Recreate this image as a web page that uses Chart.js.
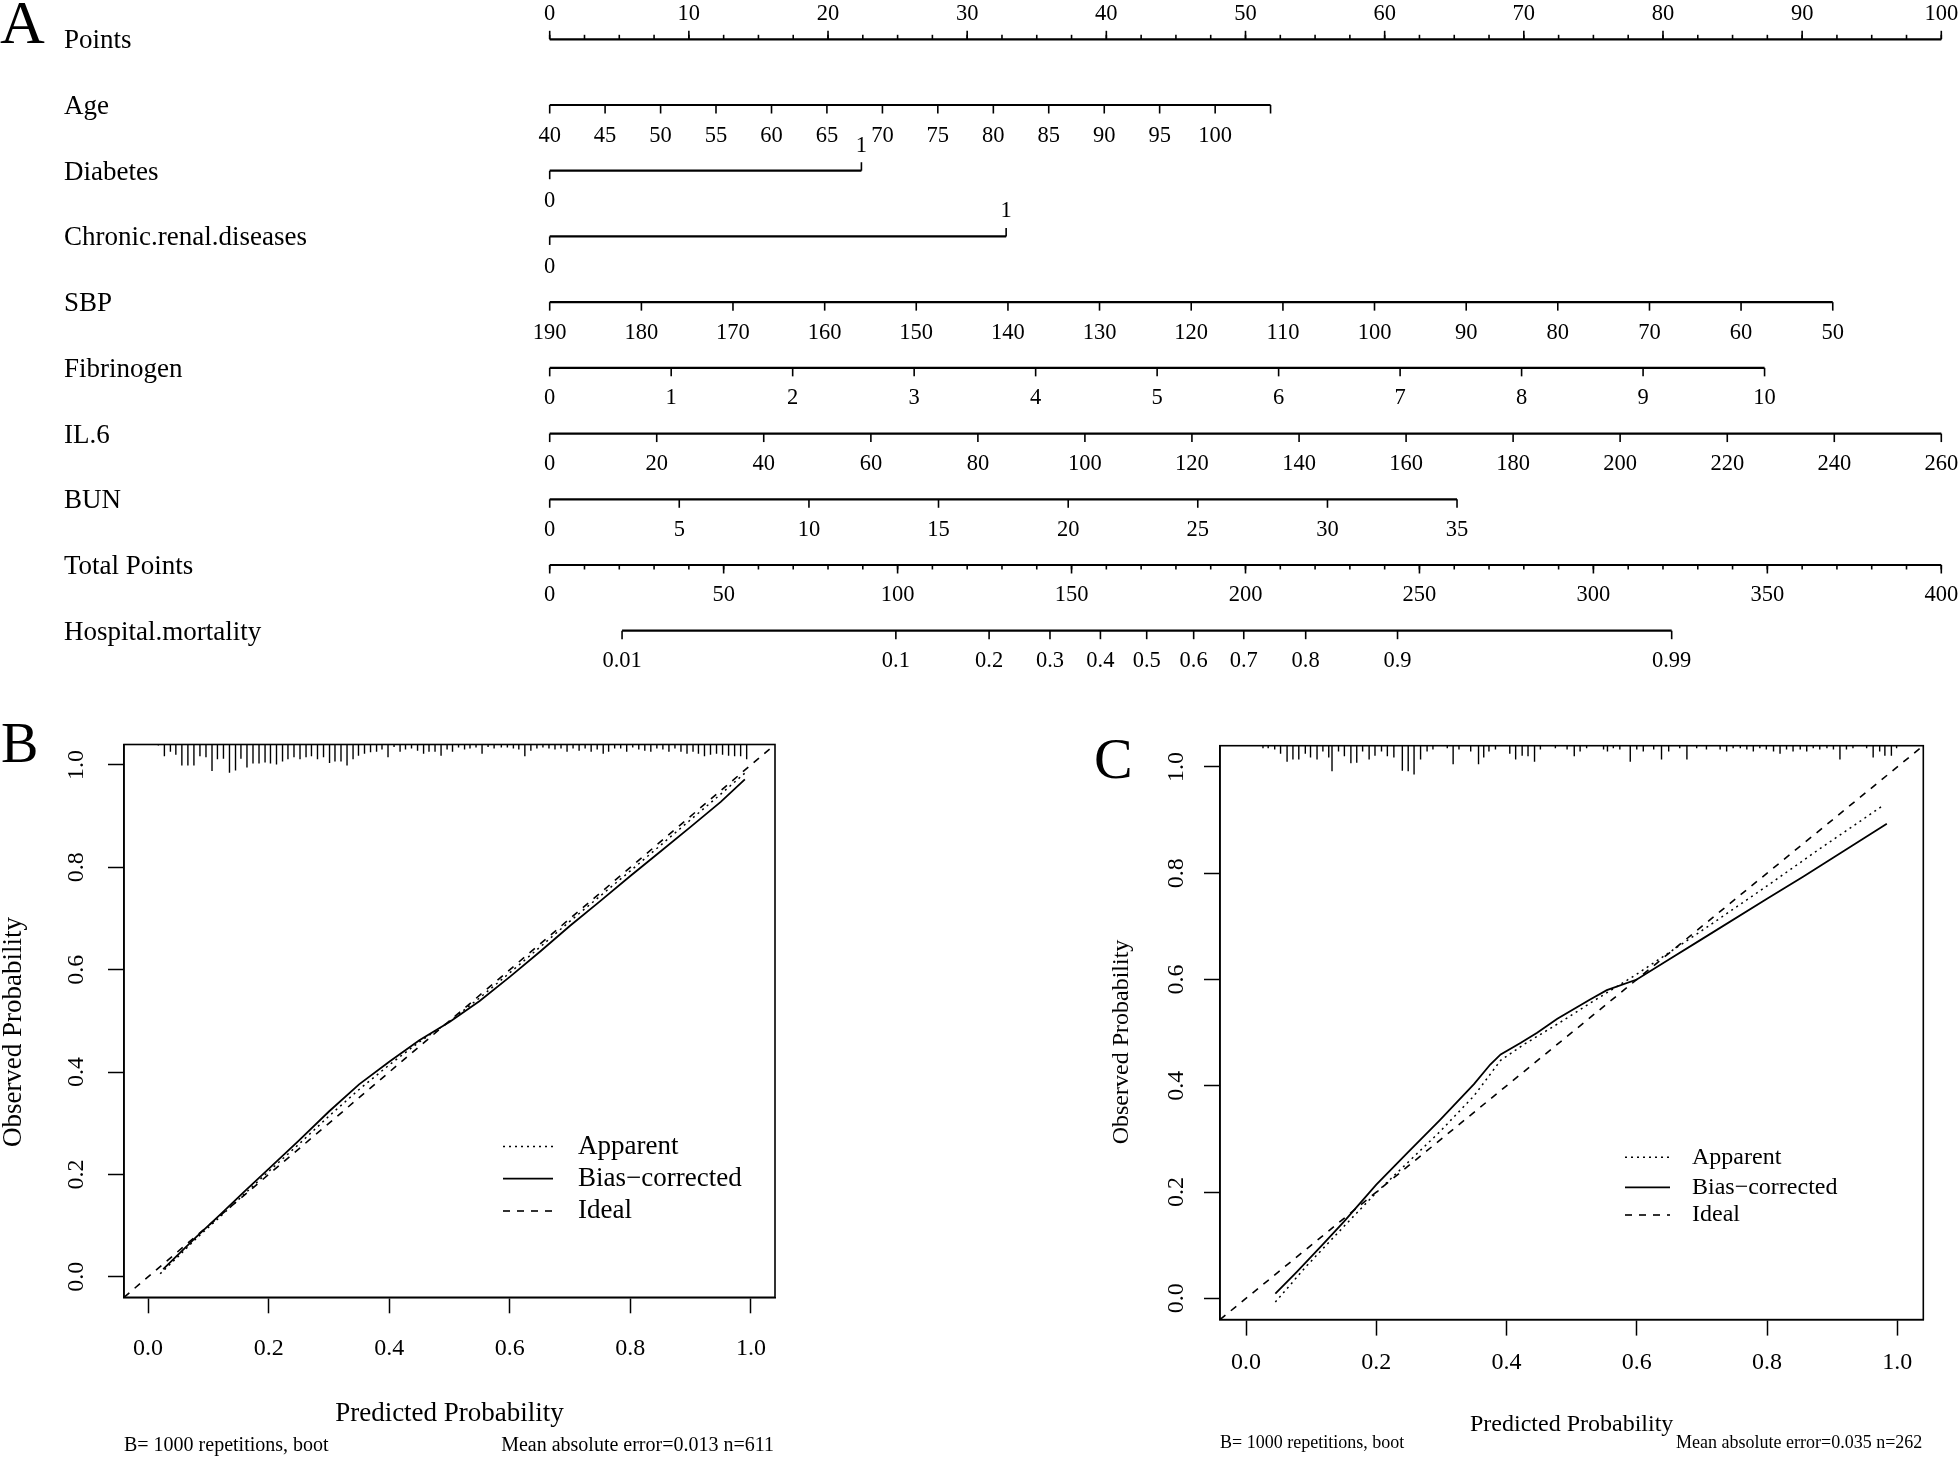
<!DOCTYPE html>
<html>
<head>
<meta charset="utf-8">
<script src="https://cdn.jsdelivr.net/npm/chart.js@4.4.0/dist/chart.umd.min.js"></script>
<style>
  html, body { margin: 0; padding: 0; background: #fff; }
  body { width: 1959px; height: 1466px; position: relative; overflow: hidden; }
  canvas { position: absolute; }
</style>
</head>
<body>
<canvas id="nomo" width="1959" height="690" style="left:0;top:0;width:1959px;height:690px"></canvas>
<canvas id="calB" width="800" height="766" style="left:0;top:700px;width:800px;height:766px"></canvas>
<canvas id="calC" width="909" height="766" style="left:1050px;top:700px;width:909px;height:766px"></canvas>
<script>
const serif = '"Liberation Serif", "Times New Roman", serif';
Chart.defaults.font.family = serif;
Chart.defaults.color = '#000';

// ---- panel A: nomogram (positions in points, or total points for the last two rows)
const pointsLabels = ['0', '10', '20', '30', '40', '50', '60', '70', '80', '90', '100'];
const pointsPos = [0, 10, 20, 30, 40, 50, 60, 70, 80, 90, 100];
const ageLabels = ['40', '45', '50', '55', '60', '65', '70', '75', '80', '85', '90', '95', '100', ''];
const agePos = [0, 3.98, 7.97, 11.95, 15.94, 19.92, 23.91, 27.89, 31.88, 35.86, 39.85, 43.83, 47.82, 51.8];
const diabetesLabels = ['0', '1'];
const diabetesPos = [0, 22.4];
const renalLabels = ['0', '1'];
const renalPos = [0, 32.8];
const sbpLabels = ['190', '180', '170', '160', '150', '140', '130', '120', '110', '100', '90', '80', '70', '60', '50'];
const sbpPos = [0, 6.59, 13.17, 19.76, 26.34, 32.93, 39.51, 46.1, 52.69, 59.27, 65.86, 72.44, 79.03, 85.61, 92.2];
const fibLabels = ['0', '1', '2', '3', '4', '5', '6', '7', '8', '9', '10'];
const fibPos = [0, 8.73, 17.46, 26.19, 34.92, 43.65, 52.38, 61.11, 69.84, 78.57, 87.3];
const il6Labels = ['0', '20', '40', '60', '80', '100', '120', '140', '160', '180', '200', '220', '240', '260'];
const il6Pos = [0, 7.69, 15.38, 23.08, 30.77, 38.46, 46.15, 53.85, 61.54, 69.23, 76.92, 84.62, 92.31, 100];
const bunLabels = ['0', '5', '10', '15', '20', '25', '30', '35'];
const bunPos = [0, 9.31, 18.63, 27.94, 37.26, 46.57, 55.89, 65.2];
const totalLabels = ['0', '50', '100', '150', '200', '250', '300', '350', '400'];
const totalPos = [0, 50, 100, 150, 200, 250, 300, 350, 400];
const mortLabels = ['0.01', '0.1', '0.2', '0.3', '0.4', '0.5', '0.6', '0.7', '0.8', '0.9', '0.99'];
const mortPos = [20.8, 99.5, 126.3, 143.8, 158.3, 171.6, 185.1, 199.5, 217.3, 243.7, 322.5];

const nomoRows = [
  { name: 'Points', axis: 'x', labels: pointsLabels, pos: pointsPos, up: true, minorStep: 2.5 },
  { name: 'Age', axis: 'x', labels: ageLabels, pos: agePos },
  { name: 'Diabetes', axis: 'x', labels: diabetesLabels, pos: diabetesPos, up: [false, true] },
  { name: 'Chronic.renal.diseases', axis: 'x', labels: renalLabels, pos: renalPos, up: [false, true] },
  { name: 'SBP', axis: 'x', labels: sbpLabels, pos: sbpPos },
  { name: 'Fibrinogen', axis: 'x', labels: fibLabels, pos: fibPos },
  { name: 'IL.6', axis: 'x', labels: il6Labels, pos: il6Pos },
  { name: 'BUN', axis: 'x', labels: bunLabels, pos: bunPos },
  { name: 'Total Points', axis: 'xt', labels: totalLabels, pos: totalPos, minorStep: 10 },
  { name: 'Hospital.mortality', axis: 'xt', labels: mortLabels, pos: mortPos }
];

// ---- panels B and C: calibration curves
const axisMin = -0.04;
const axisMax = 1.04;
const probTicks = [0, 0.2, 0.4, 0.6, 0.8, 1.0];

const bApparentX = [0.02, 0.05, 0.08, 0.12, 0.16, 0.2, 0.25, 0.3, 0.35, 0.4, 0.45, 0.5, 0.55, 0.6, 0.65, 0.7, 0.75, 0.8, 0.85, 0.9, 0.95, 0.99];
const bApparentY = [0.006, 0.04, 0.075, 0.118, 0.162, 0.206, 0.259, 0.314, 0.366, 0.414, 0.459, 0.499, 0.545, 0.594, 0.644, 0.695, 0.744, 0.793, 0.843, 0.893, 0.943, 0.984];
const bBiasX = [0.025, 0.04, 0.08, 0.12, 0.16, 0.2, 0.25, 0.3, 0.35, 0.4, 0.45, 0.5, 0.55, 0.6, 0.65, 0.7, 0.75, 0.8, 0.85, 0.9, 0.95, 0.99];
const bBiasY = [0.015, 0.032, 0.078, 0.122, 0.167, 0.211, 0.266, 0.323, 0.376, 0.42, 0.462, 0.498, 0.539, 0.586, 0.635, 0.686, 0.734, 0.783, 0.831, 0.879, 0.928, 0.972];
const bRugX = [0.017, 0.027, 0.037, 0.046, 0.056, 0.066, 0.076, 0.086, 0.096, 0.106, 0.115, 0.125, 0.135, 0.145, 0.154, 0.164, 0.174, 0.184, 0.194, 0.203,
  0.213, 0.223, 0.232, 0.242, 0.252, 0.262, 0.271, 0.281, 0.291, 0.301, 0.31, 0.32, 0.33, 0.34, 0.349, 0.359, 0.369, 0.379, 0.388, 0.398,
  0.408, 0.418, 0.427, 0.437, 0.447, 0.457, 0.466, 0.476, 0.486, 0.496, 0.505, 0.515, 0.525, 0.534, 0.544, 0.554, 0.564, 0.574, 0.586, 0.596,
  0.606, 0.615, 0.625, 0.635, 0.645, 0.655, 0.665, 0.675, 0.685, 0.695, 0.705, 0.715, 0.725, 0.735, 0.745, 0.755, 0.764, 0.774, 0.784, 0.794,
  0.804, 0.814, 0.824, 0.834, 0.844, 0.854, 0.864, 0.874, 0.884, 0.894, 0.904, 0.913, 0.923, 0.933, 0.943, 0.953, 0.963, 0.973, 0.983, 0.993];
const bRugLen = [0.002, 0.023, 0.014, 0.02, 0.041, 0.041, 0.041, 0.023, 0.025, 0.052, 0.029, 0.028, 0.055, 0.051, 0.028, 0.045, 0.037, 0.037, 0.035, 0.037,
  0.039, 0.033, 0.029, 0.025, 0.029, 0.025, 0.023, 0.029, 0.025, 0.036, 0.033, 0.033, 0.041, 0.029, 0.022, 0.018, 0.015, 0.014, 0.01, 0.025,
  0.005, 0.014, 0.01, 0.008, 0.012, 0.018, 0.014, 0.014, 0.022, 0.01, 0.014, 0.006, 0.01, 0.008, 0.006, 0.018, 0.005, 0.008, 0.006, 0.006,
  0.008, 0.01, 0.023, 0.012, 0.008, 0.006, 0.008, 0.01, 0.008, 0.014, 0.008, 0.012, 0.008, 0.014, 0.01, 0.018, 0.014, 0.008, 0.008, 0.014,
  0.006, 0.01, 0.012, 0.014, 0.008, 0.01, 0.014, 0.008, 0.014, 0.018, 0.014, 0.018, 0.023, 0.02, 0.018, 0.02, 0.022, 0.023, 0.023, 0.029];

const cApparentX = [0.045, 0.093, 0.15, 0.2, 0.247, 0.298, 0.35, 0.391, 0.427, 0.478, 0.529, 0.6, 0.65, 0.7, 0.8, 0.881, 0.979];
const cApparentY = [-0.007, 0.061, 0.135, 0.199, 0.254, 0.314, 0.381, 0.448, 0.478, 0.516, 0.556, 0.61, 0.651, 0.692, 0.776, 0.846, 0.928];
const cBiasX = [0.045, 0.078, 0.119, 0.15, 0.2, 0.247, 0.298, 0.35, 0.375, 0.391, 0.422, 0.447, 0.478, 0.529, 0.554, 0.6, 0.65, 0.7, 0.8, 0.856, 0.984];
const cBiasY = [0.009, 0.05, 0.103, 0.144, 0.214, 0.273, 0.336, 0.403, 0.44, 0.459, 0.481, 0.5, 0.526, 0.563, 0.58, 0.6, 0.638, 0.676, 0.752, 0.794, 0.893];
const cRugX = [0.026, 0.034, 0.044, 0.053, 0.063, 0.072, 0.081, 0.091, 0.099, 0.109, 0.118, 0.127, 0.132, 0.142, 0.151, 0.161, 0.17, 0.179, 0.189, 0.198,
  0.208, 0.217, 0.227, 0.24, 0.249, 0.258, 0.268, 0.278, 0.287, 0.309, 0.318, 0.327, 0.345, 0.357, 0.365, 0.373, 0.383, 0.405, 0.414, 0.424,
  0.433, 0.443, 0.452, 0.475, 0.493, 0.504, 0.513, 0.523, 0.549, 0.555, 0.564, 0.574, 0.59, 0.6, 0.61, 0.626, 0.638, 0.649, 0.666, 0.677,
  0.692, 0.707, 0.728, 0.738, 0.748, 0.759, 0.769, 0.779, 0.789, 0.799, 0.81, 0.82, 0.83, 0.84, 0.851, 0.861, 0.871, 0.881, 0.892, 0.902,
  0.912, 0.922, 0.932, 0.953, 0.963, 0.973, 0.981, 0.991, 0.999];
const cRugLen = [0.005, 0.005, 0.007, 0.015, 0.03, 0.026, 0.026, 0.015, 0.022, 0.026, 0.011, 0.022, 0.048, 0.011, 0.02, 0.033, 0.032, 0.011, 0.026, 0.019,
  0.011, 0.02, 0.022, 0.047, 0.048, 0.054, 0.026, 0.011, 0.007, 0.005, 0.035, 0.007, 0.011, 0.035, 0.022, 0.011, 0.007, 0.015, 0.026, 0.019,
  0.02, 0.03, 0.007, 0.005, 0.007, 0.02, 0.011, 0.005, 0.007, 0.011, 0.005, 0.007, 0.03, 0.007, 0.011, 0.007, 0.026, 0.011, 0.005, 0.026,
  0.005, 0.007, 0.007, 0.011, 0.005, 0.005, 0.007, 0.011, 0.005, 0.007, 0.011, 0.015, 0.007, 0.011, 0.007, 0.011, 0.005, 0.007, 0.005, 0.007,
  0.026, 0.007, 0.005, 0.005, 0.022, 0.011, 0.019, 0.019, 0.005];

function pairs(xs, ys) {
  return xs.map((x, i) => ({ x: x, y: ys[i] }));
}

const nomogramPlugin = {
  id: 'nomogram',
  afterDatasetsDraw(chart) {
    const { ctx, scales } = chart;
    ctx.save();
    ctx.fillStyle = '#000';
    ctx.strokeStyle = '#000';
    ctx.textBaseline = 'alphabetic';
    ctx.textAlign = 'left';
    ctx.font = '62px ' + serif;
    ctx.fillText('A', 0, 43);
    nomoRows.forEach((row, i) => {
      const xs = scales[row.axis];
      const y = scales.y.getPixelForValue(i);
      ctx.font = '27px ' + serif;
      ctx.textAlign = 'left';
      ctx.fillText(row.name, 64, y + 9);
      ctx.lineWidth = 1.6;
      if (row.minorStep) {
        const last = row.pos[row.pos.length - 1];
        for (let v = row.pos[0]; v <= last + 1e-9; v += row.minorStep) {
          const x = xs.getPixelForValue(v);
          ctx.beginPath();
          ctx.moveTo(x, y);
          ctx.lineTo(x, row.up ? y - 4.5 : y + 4.5);
          ctx.stroke();
        }
      }
      ctx.font = '22.5px ' + serif;
      ctx.textAlign = 'center';
      row.pos.forEach((p, k) => {
        const x = xs.getPixelForValue(p);
        const up = row.up === true || (Array.isArray(row.up) && row.up[k]);
        ctx.beginPath();
        ctx.moveTo(x, y);
        ctx.lineTo(x, up ? y - 8.5 : y + 8.5);
        ctx.stroke();
        if (row.labels[k]) ctx.fillText(row.labels[k], x, up ? y - 19 : y + 36.5);
      });
    });
    ctx.restore();
  }
};

new Chart(document.getElementById('nomo'), {
  type: 'scatter',
  data: {
    datasets: nomoRows.map((row, i) => ({
      data: [{ x: row.pos[0], y: i }, { x: row.pos[row.pos.length - 1], y: i }],
      xAxisID: row.axis,
      showLine: true,
      borderColor: '#000',
      borderWidth: 2.2,
      pointRadius: 0,
      clip: false
    }))
  },
  options: {
    responsive: false,
    animation: false,
    devicePixelRatio: 1,
    layout: { padding: { left: 549.7, right: 17.7, top: 39.3, bottom: 59.3 } },
    plugins: { legend: { display: false }, tooltip: { enabled: false } },
    scales: {
      x: { type: 'linear', min: 0, max: 100, display: false },
      xt: { type: 'linear', axis: 'x', min: 0, max: 400, display: false },
      y: { type: 'linear', min: 0, max: 9, reverse: true, display: false }
    }
  },
  plugins: [nomogramPlugin]
});

function calibration(id, c) {
  const rug = [];
  c.rugX.forEach((x, i) => {
    rug.push({ x: x, y: axisMax }, { x: x, y: axisMax - c.rugLen[i] }, { x: x, y: null });
  });
  const lineSet = (label, data, dash, width) => ({
    label: label, data: data, showLine: true, borderColor: '#000', borderWidth: width,
    borderDash: dash, pointRadius: 0, fill: false, spanGaps: false
  });
  const datasets = [
    lineSet('Apparent', pairs(c.appX, c.appY), [2, 4], 1.5),
    lineSet('Bias\u2212corrected', pairs(c.biasX, c.biasY), [], 1.8),
    lineSet('Ideal', [{ x: axisMin, y: axisMin }, { x: axisMax, y: axisMax }], [7, 7], 1.6),
    Object.assign(lineSet('rug', rug, [], 1.4), { clip: false })
  ];

  const decor = {
    id: 'decor_' + id,
    afterDraw(chart) {
      const { ctx, chartArea: a } = chart;
      ctx.save();
      ctx.strokeStyle = '#000';
      ctx.fillStyle = '#000';
      ctx.lineWidth = 1.6;
      ctx.strokeRect(a.left, a.top, a.right - a.left, a.bottom - a.top);
      // panel letter
      ctx.font = c.letterSize + 'px ' + serif;
      ctx.textAlign = 'left';
      ctx.textBaseline = 'alphabetic';
      ctx.fillText(c.letter, c.letterX, c.letterY);
      // axis titles
      ctx.font = c.titleSize + 'px ' + serif;
      ctx.textAlign = 'center';
      ctx.fillText('Predicted Probability', (a.left + a.right) / 2, c.xTitleY);
      ctx.save();
      ctx.translate(c.yTitleX, c.yTitleY);
      ctx.rotate(-Math.PI / 2);
      ctx.fillText('Observed Probability', 0, 0);
      ctx.restore();
      // footnotes
      ctx.font = c.noteSize + 'px ' + serif;
      ctx.textAlign = 'left';
      ctx.fillText('B= 1000 repetitions, boot', a.left, c.noteY);
      ctx.textAlign = 'right';
      ctx.fillText(c.note, a.right - 1, c.noteY);
      // legend
      ctx.font = c.legendSize + 'px ' + serif;
      ctx.textAlign = 'left';
      ctx.textBaseline = 'middle';
      datasets.slice(0, 3).forEach((ds, i) => {
        const y = c.legendY[i];
        ctx.setLineDash(ds.borderDash);
        ctx.lineWidth = ds.borderWidth;
        ctx.beginPath();
        ctx.moveTo(c.legendX[0], y);
        ctx.lineTo(c.legendX[1], y);
        ctx.stroke();
        ctx.setLineDash([]);
        ctx.fillText(ds.label, c.legendX[2], y);
      });
      ctx.restore();
    }
  };

  const axisCommon = extra => Object.assign({
    type: 'linear',
    min: axisMin,
    max: axisMax,
    afterBuildTicks: s => { s.ticks = probTicks.map(v => ({ value: v })); },
    grid: { display: true, drawOnChartArea: false, drawTicks: true, tickLength: 16, tickWidth: 1.5, tickColor: '#000' },
    border: { display: true, color: '#000', width: 1.5 }
  }, extra);

  new Chart(document.getElementById(id), {
    type: 'scatter',
    data: { datasets: datasets },
    options: {
      responsive: false,
      animation: false,
      devicePixelRatio: 1,
      layout: { padding: { left: 0, right: c.padRight, top: c.padTop, bottom: 0 } },
      plugins: { legend: { display: false }, tooltip: { enabled: false } },
      scales: {
        x: axisCommon({
          position: 'bottom',
          ticks: { autoSkip: false, maxRotation: 0, padding: c.xPad, font: { size: c.tickSize }, color: '#000',
            callback: v => Number(v).toFixed(1) },
          afterFit: s => { s.height = c.xHeight; }
        }),
        y: axisCommon({
          position: 'left',
          ticks: { autoSkip: false, minRotation: 90, maxRotation: 90, crossAlign: 'center', padding: c.yPad,
            font: { size: c.tickSize }, color: '#000', callback: v => Number(v).toFixed(1) },
          afterFit: s => { s.width = c.yWidth; }
        })
      }
    },
    plugins: [decor]
  });
}

calibration('calB', {
  appX: bApparentX, appY: bApparentY, biasX: bBiasX, biasY: bBiasY, rugX: bRugX, rugLen: bRugLen,
  padTop: 44.5, padRight: 25, yWidth: 124, xHeight: 168.7, xPad: 21, yPad: 16, tickSize: 24,
  letter: 'B', letterSize: 56, letterX: 1, letterY: 61.5,
  titleSize: 27, xTitleY: 721, yTitleX: 21, yTitleY: 332,
  noteSize: 20, noteY: 751, note: 'Mean absolute error=0.013 n=611',
  legendSize: 27, legendX: [503, 553, 578], legendY: [446.5, 478.7, 511]
});

calibration('calC', {
  appX: cApparentX, appY: cApparentY, biasX: cBiasX, biasY: cBiasY, rugX: cRugX, rugLen: cRugLen,
  padTop: 45.7, padRight: 35.7, yWidth: 170, xHeight: 146.4, xPad: 13, yPad: 12, tickSize: 24,
  letter: 'C', letterSize: 58, letterX: 44, letterY: 78,
  titleSize: 24, xTitleY: 731, yTitleX: 77.6, yTitleY: 342,
  noteSize: 18, noteY: 748, note: 'Mean absolute error=0.035 n=262',
  legendSize: 24, legendX: [575, 620, 642], legendY: [457.3, 487.4, 515]
});
</script>
</body>
</html>
